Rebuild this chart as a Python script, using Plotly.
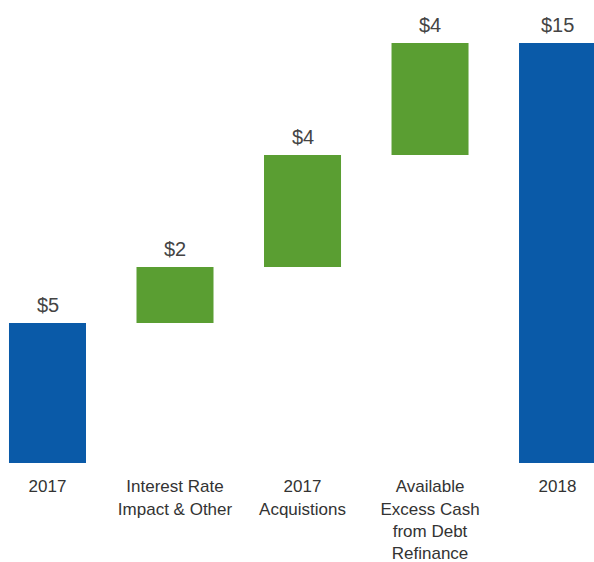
import numpy as np
import plotly.graph_objects as go

# данные
categories = ["2017", "Interest Rate<br>Impact & Other", "2017<br>Acquistions",
              "Available<br>Excess Cash<br>from Debt<br>Refinance", "2018"]
values = [5, 2, 4, 4, 15]
measures = ["total", "delta", "delta", "delta", "total"]
labels = ["$5", "$2", "$4", "$4", "$15"]

blue = "#0a5aa8"
green = "#5a9e32"
font_family = "Liberation Sans, Arial, sans-serif"

# основание столбцов
bases = []
running = 0
for v, m in zip(values, measures):
    if m == "total":
        bases.append(0)
        running = v
    else:
        bases.append(running)
        running += v
tops = np.array(bases) + np.array(values)
colors = [blue if m == "total" else green for m in measures]
xs = list(range(len(categories)))

fig = go.Figure()
fig.add_trace(go.Bar(x=xs, y=values, base=bases, width=0.604,
                     marker=dict(color=colors, line=dict(width=0)),
                     hoverinfo="skip"))

# подписи значений над столбцами
for x, top, lab in zip(xs, tops, labels):
    fig.add_annotation(x=x, y=top, text=lab, showarrow=False,
                       yanchor="bottom", yshift=5,
                       font=dict(size=20, color="#444444", family=font_family))

fig.update_xaxes(range=[-0.3725, 4.286], tickmode="array", tickvals=xs,
                 ticktext=categories, showgrid=False, zeroline=False,
                 showline=False, ticks="outside", ticklen=8, tickcolor="white",
                 tickfont=dict(size=17, color="#333333", family=font_family))
fig.update_yaxes(range=[0, 16.536], visible=False, showgrid=False)

fig.update_layout(
    width=594, height=562,
    margin=dict(l=0, r=0, t=0, b=99),
    plot_bgcolor="white", paper_bgcolor="white",
    showlegend=False,
)

# убираем отступ страницы, чтобы график занял всё окно
fig.write_html("out.html", config={"displayModeBar": False},
               post_script="document.body.style.margin='0px'; document.body.style.overflow='hidden';")
